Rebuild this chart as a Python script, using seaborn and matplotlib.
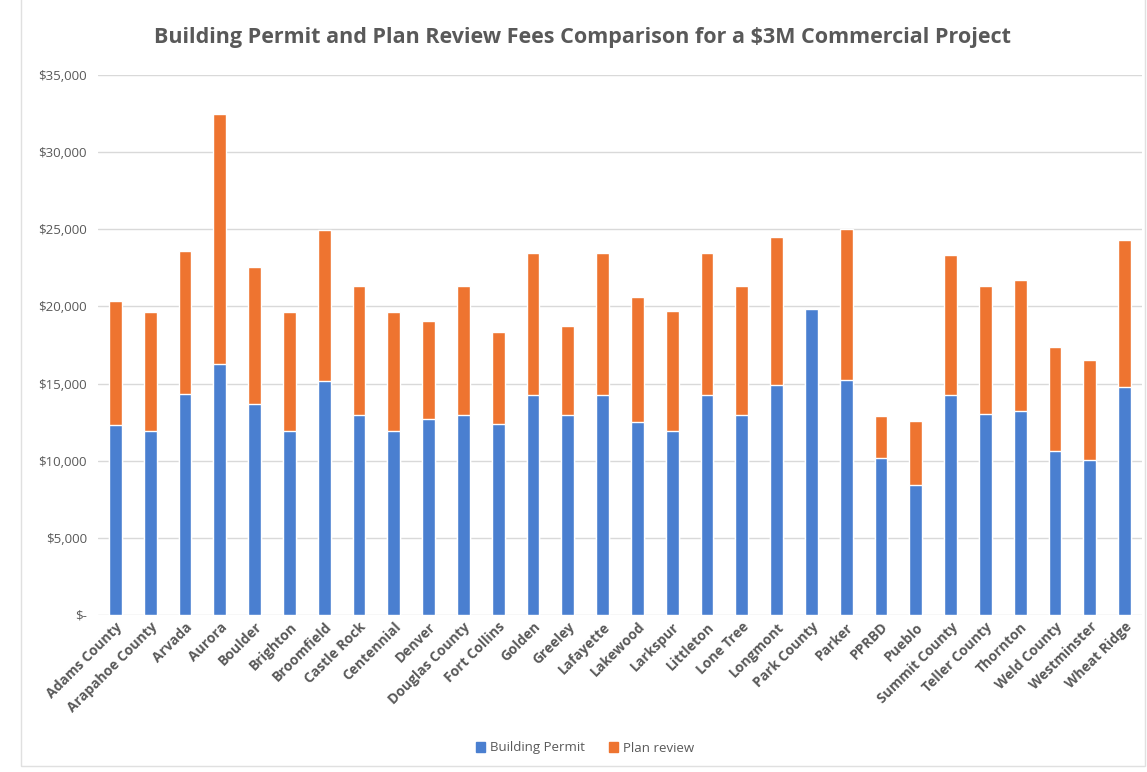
import pandas as pd
import matplotlib.pyplot as plt
import seaborn as sns
from matplotlib.patches import Patch

cities = ["Adams County", "Arapahoe County", "Arvada", "Aurora", "Boulder", "Brighton",
          "Broomfield", "Castle Rock", "Centennial", "Denver", "Douglas County", "Fort Collins",
          "Golden", "Greeley", "Lafayette", "Lakewood", "Larkspur", "Littleton", "Lone Tree",
          "Longmont", "Park County", "Parker", "PPRBD", "Pueblo", "Summit County",
          "Teller County", "Thornton", "Weld County", "Westminster", "Wheat Ridge"]
building_permit = [12300, 11900, 14350, 16250, 13700, 11900, 15150, 12950, 11900, 12700,
                   12950, 12400, 14250, 12950, 14250, 12500, 11950, 14250, 12950, 14900,
                   19850, 15200, 10150, 8400, 14250, 13000, 13200, 10600, 10050, 14800]
plan_review = [8050, 7750, 9250, 16200, 8850, 7750, 9800, 8350, 7750, 6350,
               8400, 5950, 9200, 5800, 9200, 8100, 7750, 9200, 8400, 9600,
               0, 9850, 2750, 4150, 9100, 8350, 8500, 6800, 6450, 9500]

df = pd.DataFrame({"City": cities, "Building Permit": building_permit, "Plan review": plan_review})
df["Total"] = df["Building Permit"] + df["Plan review"]

blue = "#4a7fd0"
orange = "#ee7430"
grey = "#595959"

sns.set_style("white")
plt.rcParams['font.family'] = ['Open Sans', 'DejaVu Sans']

fig = plt.figure(figsize=(11.47, 7.72), dpi=100)
ax = fig.add_axes([98 / 1147, 1 - 615 / 772, (1142 - 98) / 1147, (615 - 75) / 772])

# stacked look: total in orange, building permit drawn over it in blue
sns.barplot(data=df, x="City", y="Total", color=orange, width=0.37, saturation=1, ax=ax)
sns.barplot(data=df, x="City", y="Building Permit", color=blue, width=0.37, saturation=1, ax=ax)

ax.set_ylim(0, 35000)
ax.set_xlim(-0.5, len(df) - 0.5)
ticks = list(range(0, 35001, 5000))
ax.set_yticks(ticks)
ax.set_yticklabels(["\\$-"] + ["\\${:,}".format(t) for t in ticks[1:]], color=grey, fontsize=9.5)
ax.yaxis.grid(True, color="#d9d9d9", linewidth=1)
ax.set_axisbelow(True)
for s in ax.spines.values():
    s.set_visible(False)
ax.tick_params(axis="both", length=0)
ax.tick_params(axis="y", pad=8)
ax.set_xlabel("")
ax.set_ylabel("")
plt.setp(ax.get_xticklabels(), rotation=45, ha="right", rotation_mode="anchor",
         fontsize=10, fontweight="bold", color=grey)

fig.suptitle("Building Permit and Plan Review Fees Comparison for a \\$3M Commercial Project",
             x=0.508, y=0.965, fontsize=15.5, fontweight="bold", color=grey)

handles = [Patch(color=blue, label="Building Permit"), Patch(color=orange, label="Plan review")]
fig.legend(handles=handles, loc="center", bbox_to_anchor=(0.51, 1 - 748 / 772), ncol=2,
           frameon=False, fontsize=9.5, handlelength=0.7, handleheight=0.7,
           columnspacing=1.8, handletextpad=0.4, labelcolor=grey)

fig.add_artist(plt.Rectangle((0.018, 0.008), 0.98, 1.0, fill=False, edgecolor="#e0e0e0",
                             linewidth=1, transform=fig.transFigure))

fig.savefig("out.png", dpi=100)
